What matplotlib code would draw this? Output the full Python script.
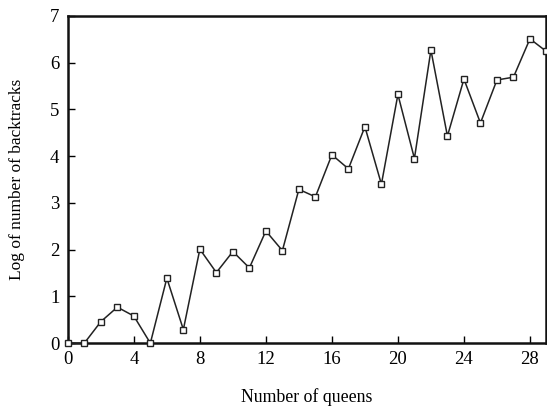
import numpy as np
import matplotlib
matplotlib.use('Agg')
import matplotlib.pyplot as plt

plt.rcParams['font.family'] = ['Liberation Serif', 'DejaVu Serif']

queens = np.arange(0, 30)
log_backtracks = [
    0.0, 0.0, 0.46, 0.77, 0.58, 0.0, 1.39, 0.29, 2.01, 1.51,
    1.96, 1.61, 2.40, 1.98, 3.29, 3.13, 4.03, 3.73, 4.63, 3.40,
    5.32, 3.95, 6.27, 4.43, 5.65, 4.71, 5.63, 5.69, 6.51, 6.24,
]

fig = plt.figure(figsize=(5.47, 4.09), dpi=100)
ax = fig.add_axes([0.124, 0.161, 0.875, 0.800])

ax.plot(queens, log_backtracks, color='#222222', linewidth=1.1,
        marker='s', markersize=5, markerfacecolor='white',
        markeredgecolor='#222222', markeredgewidth=1.0, clip_on=False, zorder=3)

ax.set_xlim(0, 29)
ax.set_ylim(0, 7)
ax.set_xticks(np.arange(0, 29, 4))
ax.set_yticks(np.arange(0, 8, 1))
ax.tick_params(direction='in', length=5, width=1, labelsize=13.5,
               top=False, right=False)
ax.tick_params(axis='x', pad=6)
ax.tick_params(axis='y', pad=6)
for s in ax.spines.values():
    s.set_linewidth(1.8)
    s.set_color('#111111')

ax.set_xlabel('Number of queens', fontsize=12.8, labelpad=14)
ax.set_ylabel('Log of number of backtracks', fontsize=12.5, labelpad=18)

fig.savefig('out.png', dpi=100)
